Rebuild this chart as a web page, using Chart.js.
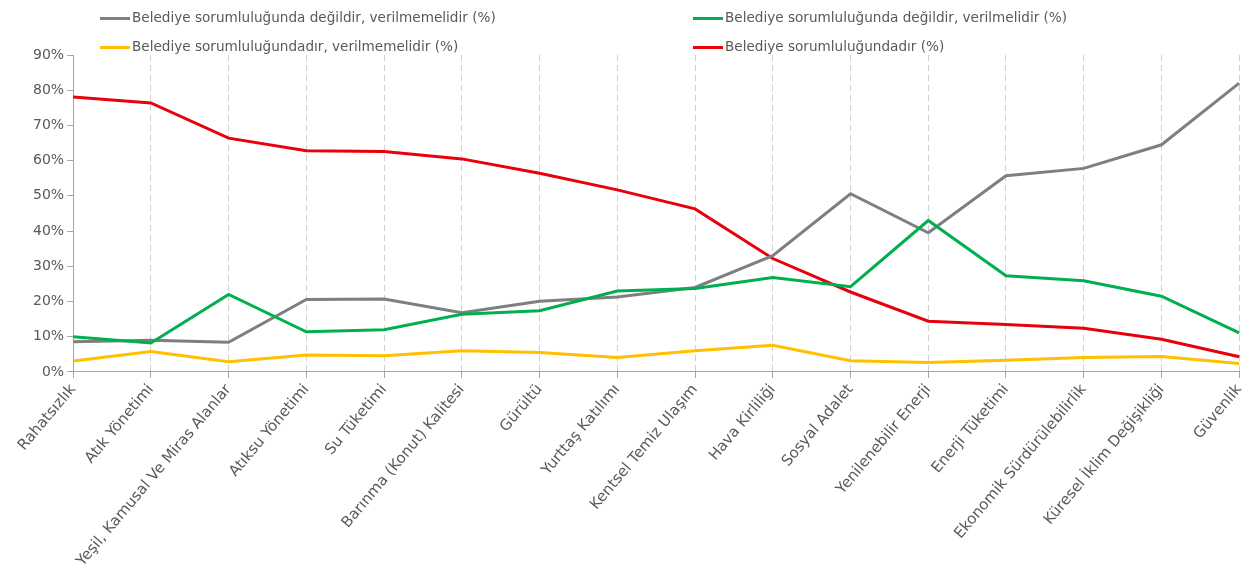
<!DOCTYPE html>
<html>
<head>
<meta charset="utf-8">
<script src="https://cdn.jsdelivr.net/npm/chart.js@4"></script>
<style>
  body { margin: 0; background: #ffffff; }
  #wrap { position: relative; width: 1256px; height: 584px; }
  .legendItem {
    position: absolute;
    font-family: "DejaVu Sans", sans-serif;
    font-size: 13.6px;
    color: #595959;
    white-space: nowrap;
    line-height: 16px;
  }
  .legendItem span {
    display: inline-block;
    width: 30px;
    height: 3px;
    vertical-align: middle;
    margin-right: 2px;
  }
</style>
</head>
<body>
<div id="wrap">
  <canvas id="myChart" width="1256" height="584"></canvas>
  <div id="legend"></div>
</div>
<script>
const categories = [
  "Rahatsızlık", "Atık Yönetimi", "Yeşil, Kamusal Ve Miras Alanlar", "Atıksu Yönetimi",
  "Su Tüketimi", "Barınma (Konut) Kalitesi", "Gürültü", "Yurttaş Katılımı",
  "Kentsel Temiz Ulaşım", "Hava Kirliliği", "Sosyal Adalet", "Yenilenebilir Enerji",
  "Enerji Tüketimi", "Ekonomik Sürdürülebilirlik", "Küresel İklim Değişikliği", "Güvenlik"
];

const seriesNames = [
  "Belediye sorumluluğunda değildir, verilmemelidir (%)",
  "Belediye sorumluluğunda değildir, verilmelidir (%)",
  "Belediye sorumluluğundadır, verilmemelidir (%)",
  "Belediye sorumluluğundadır (%)"
];

const notResponsibleNotGiven = [8.6, 9, 8.4, 20.6, 20.7, 16.8, 20.1, 21.3, 24, 33, 50.6, 39.5, 55.7, 57.8, 64.5, 82];
const notResponsibleGiven = [10, 8.2, 22, 11.4, 12, 16.4, 17.4, 23, 23.7, 26.8, 24.2, 43, 27.3, 25.9, 21.5, 11.1];
const responsibleNotGiven = [3.1, 5.8, 2.9, 4.8, 4.6, 6, 5.5, 4.1, 6, 7.6, 3.2, 2.7, 3.3, 4.1, 4.4, 2.4];
const responsible = [78.1, 76.4, 66.4, 62.8, 62.6, 60.5, 56.4, 51.7, 46.3, 32.2, 22.7, 14.4, 13.5, 12.4, 9.3, 4.3];

const yTicks = [0, 10, 20, 30, 40, 50, 60, 70, 80, 90];

const colors = ["#7f7f7f", "#00b050", "#ffc000", "#e8000b"];

// legend: two columns, drawn as html
const legendPos = [
  [100, 9], [693, 9], [100, 38], [693, 38]
];
const legendDiv = document.getElementById("legend");
for (let i = 0; i < seriesNames.length; i++) {
  const item = document.createElement("div");
  item.className = "legendItem";
  item.style.left = legendPos[i][0] + "px";
  item.style.top = legendPos[i][1] + "px";
  item.innerHTML = '<span style="background:' + colors[i] + '"></span>' + seriesNames[i];
  legendDiv.appendChild(item);
}

function makeDataset(index, values) {
  return {
    label: seriesNames[index],
    data: values,
    borderColor: colors[index],
    backgroundColor: colors[index],
    borderWidth: 3,
    pointRadius: 0,
    tension: 0,
  };
}

const myChart = new Chart(document.getElementById("myChart").getContext("2d"), {
  type: "line",
  data: {
    labels: categories,
    datasets: [
      makeDataset(2, responsibleNotGiven),
      makeDataset(1, notResponsibleGiven),
      makeDataset(0, notResponsibleNotGiven),
      makeDataset(3, responsible),
    ],
  },
  options: {
    responsive: false,
    animation: false,
    layout: {
      padding: { top: 55, right: 0, left: 30, bottom: 11 },
    },
    plugins: {
      legend: { display: false },
      tooltip: { enabled: false },
    },
    scales: {
      x: {
        offset: false,
        grid: {
          color: "#d0d0d0",
          drawOnChartArea: true,
          tickLength: 6,
          tickColor: "#a6a6a6",
          tickBorderDash: [],
        },
        border: {
          color: "#a6a6a6",
          width: 1,
          dash: [6, 4],
        },
        ticks: {
          autoSkip: false,
          maxRotation: 50,
          minRotation: 50,
          color: "#595959",
          font: { family: "DejaVu Sans", size: 15 },
        },
      },
      y: {
        min: 0,
        max: 90,
        afterBuildTicks: (axis) => {
          axis.ticks = yTicks.map((v) => ({ value: v }));
        },
        grid: {
          drawOnChartArea: false,
          tickLength: 6,
          color: "#a6a6a6",
        },
        border: {
          color: "#a6a6a6",
          width: 1,
        },
        ticks: {
          color: "#595959",
          font: { family: "DejaVu Sans", size: 14 },
          callback: (value) => value + "%",
        },
      },
    },
  },
});
</script>
</body>
</html>
